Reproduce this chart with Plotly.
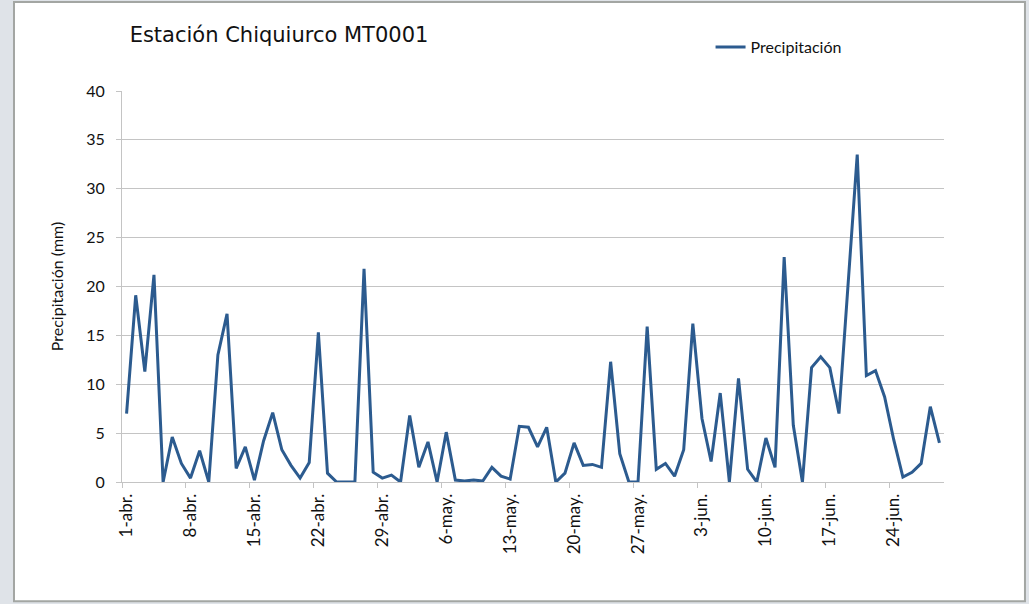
import plotly.graph_objects as go

# daily precipitation, 1-abr to 29-jun
fechas = ([f"{d}-abr." for d in range(1, 31)] +
          [f"{d}-may." for d in range(1, 32)] +
          [f"{d}-jun." for d in range(1, 30)])
precipitacion = [
    7.0, 19.1, 11.3, 21.2, 0.0, 4.6, 1.9, 0.4, 3.2, 0.0,
    13.0, 17.2, 1.4, 3.6, 0.2, 4.2, 7.1, 3.3, 1.7, 0.4,
    2.0, 15.3, 0.9, 0.0, 0.0, 0.0, 21.8, 1.0, 0.4, 0.7,
    0.0, 6.8, 1.5, 4.1, 0.0, 5.1, 0.2, 0.1, 0.2, 0.1,
    1.5, 0.6, 0.3, 5.7, 5.6, 3.6, 5.6, 0.0, 0.9, 4.0,
    1.7, 1.8, 1.5, 12.3, 2.9, 0.0, 0.0, 15.9, 1.3, 1.9,
    0.6, 3.3, 16.2, 6.5, 2.1, 9.1, 0.0, 10.6, 1.3, 0.0,
    4.5, 1.5, 23.0, 5.8, 0.0, 11.7, 12.8, 11.7, 7.0, 20.0,
    33.5, 10.9, 11.4, 8.7, 4.3, 0.5, 1.0, 1.9, 7.7, 4.0,
]
dias = list(range(len(fechas)))
# labelled every 7 days
tick_pos = dias[::7]
tick_txt = fechas[::7]

azul = "#2C5B8F"
gris = "#C4C4C4"
font_small = "Lato, 'Noto Sans', sans-serif"

fig = go.Figure()
fig.add_trace(go.Scatter(
    x=dias, y=precipitacion, mode="lines", name="Precipitación",
    line=dict(color=azul, width=3),
))

fig.update_layout(
    width=1029, height=604,
    margin=dict(l=122, r=85, t=91, b=122),
    paper_bgcolor="#DFE3E8",
    plot_bgcolor="white",
    title=dict(text="Estación Chiquiurco MT0001", x=0.126, xanchor="left",
               y=0.942, yanchor="middle",
               font=dict(family="'DejaVu Sans', sans-serif", size=21, color="#111111")),
    showlegend=True,
    legend=dict(x=0.716, xanchor="left", y=1.112, yanchor="middle",
                orientation="h", bgcolor="rgba(0,0,0,0)",
                font=dict(family=font_small, size=16, color="#111111")),
    # white chart card with grey border over the slide background
    shapes=[dict(type="rect", xref="paper", yref="paper",
                 x0=-0.1314, x1=1.0985, y0=-0.305, y1=1.2276,
                 fillcolor="white", line=dict(color="#A3A6A3", width=2),
                 layer="below")],
)

fig.update_xaxes(
    range=[-0.5, len(dias) - 0.5],
    tickmode="array", tickvals=tick_pos, ticktext=tick_txt,
    tickangle=-90, ticks="", ticklabelstandoff=4,
    tickfont=dict(family=font_small, size=17, color="#111111"),
    showgrid=False, zeroline=False,
    showline=True, linecolor=gris, linewidth=1,
    minor=dict(tick0=-0.5, dtick=7, ticks="outside", ticklen=5,
               tickcolor=gris, showgrid=False),
)
fig.update_yaxes(
    range=[0, 40], dtick=5,
    ticks="outside", ticklen=5, tickcolor=gris, ticklabelstandoff=8,
    tickfont=dict(family=font_small, size=16, color="#111111"),
    showgrid=True, gridcolor=gris, gridwidth=1,
    zeroline=False, showline=True, linecolor=gris, linewidth=1,
    title=dict(text="Precipitación (mm)", standoff=18,
               font=dict(family=font_small, size=16, color="#111111")),
)

# page body has an 8px default margin; drop it so the figure fills the window
fig.write_html("out.html", config={"displayModeBar": False},
               post_script="document.body.style.margin='0';")
